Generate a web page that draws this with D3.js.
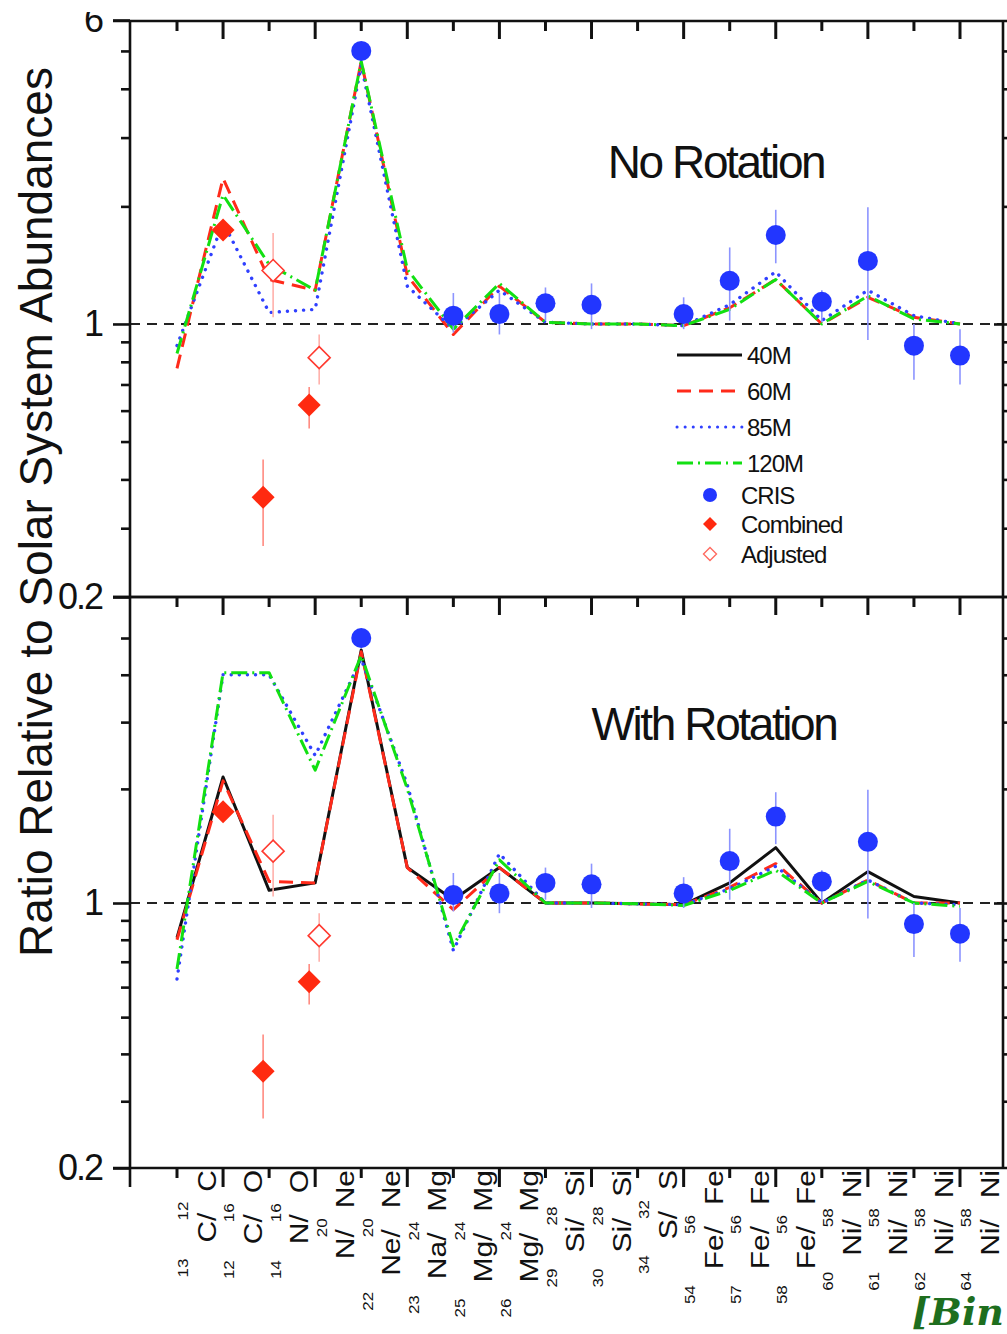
<!DOCTYPE html>
<html><head><meta charset="utf-8">
<script src="https://cdn.jsdelivr.net/npm/d3@7"></script>
<style>
html,body{margin:0;padding:0;background:#fff;}
svg{display:block;font-family:"Liberation Sans",Arial,Helvetica,sans-serif;}
</style></head><body>
<svg id="chart" width="1007" height="1334"></svg>
<script>
// Isotope / element ratios along the x axis
const ratios = ["13C/12C","12C/16O","14N/16O","N/Ne","22Ne/20Ne","23Na/24Mg","25Mg/24Mg","26Mg/24Mg",
  "29Si/28Si","30Si/28Si","34S/32S","54Fe/56Fe","57Fe/56Fe","58Fe/56Fe","60Ni/58Ni","61Ni/58Ni","62Ni/58Ni","64Ni/58Ni"];
// label pieces: numerator mass, numerator element, denominator mass, denominator element
const numMass = ["13","12","14","","22","23","25","26","29","30","34","54","57","58","60","61","62","64"];
const numElem = ["C","C","N","N","Ne","Na","Mg","Mg","Si","Si","S","Fe","Fe","Fe","Ni","Ni","Ni","Ni"];
const denMass = ["12","16","16","20","20","24","24","24","28","28","32","56","56","56","58","58","58","58"];
const denElem = ["C","O","O","Ne","Ne","Mg","Mg","Mg","Si","Si","S","Fe","Fe","Fe","Ni","Ni","Ni","Ni"];

// Model ratios, no rotation (the 40M curve is not shown in this panel)
const noRot60  = [0.77,2.36,1.30,1.22,4.70,1.33,0.94,1.25,1.01,1.00,1.00,0.99,1.10,1.30,1.00,1.17,1.04,1.00];
const noRot85  = [0.88,1.82,1.07,1.09,4.60,1.25,0.97,1.22,1.01,1.00,1.00,0.99,1.12,1.36,1.02,1.22,1.05,1.00];
const noRot120 = [0.84,2.14,1.42,1.22,4.70,1.38,0.97,1.27,1.01,1.00,1.00,0.99,1.09,1.30,1.00,1.18,1.03,1.00];
// Model ratios, with rotation
const rot40  = [0.81,2.15,1.08,1.13,4.65,1.24,1.02,1.24,1.00,1.00,0.995,0.99,1.13,1.40,1.00,1.21,1.04,1.00];
const rot60  = [0.80,2.10,1.14,1.13,4.60,1.24,0.96,1.24,1.00,1.00,0.995,0.99,1.10,1.27,1.00,1.15,1.00,1.00];
const rot85  = [0.63,4.00,4.00,2.45,4.40,2.05,0.75,1.35,1.00,1.00,0.995,0.99,1.09,1.25,1.00,1.15,1.00,0.99];
const rot120 = [0.67,4.05,4.05,2.24,4.50,2.00,0.77,1.30,1.00,1.00,0.995,0.985,1.08,1.22,1.00,1.14,1.00,0.98];

// CRIS source ratios with uncertainty range
const crisRatio = ["22Ne/20Ne","25Mg/24Mg","26Mg/24Mg","29Si/28Si","30Si/28Si","54Fe/56Fe","57Fe/56Fe","58Fe/56Fe","60Ni/58Ni","61Ni/58Ni","62Ni/58Ni","64Ni/58Ni"];
const crisVal = [5.00,1.05,1.06,1.13,1.12,1.06,1.29,1.69,1.14,1.45,0.88,0.83];
const crisLo  = [4.85,0.95,0.94,1.02,0.97,0.97,1.02,1.43,1.01,0.91,0.72,0.70];
const crisHi  = [5.15,1.20,1.20,1.24,1.27,1.17,1.57,1.96,1.22,1.99,1.00,0.97];
// Combined measurements
const combRatio = ["12C/16O","14N/16O","N/Ne"];
const combVal = [1.74,0.36,0.62];
const combLo  = [1.70,0.27,0.54];
const combHi  = [1.78,0.45,0.69];
// Adjusted measurements
const adjRatio = ["14N/16O","N/Ne"];
const adjVal = [1.37,0.82];
const adjLo  = [1.04,0.70];
const adjHi  = [1.71,0.94];

const yTicksMajor = [0.2,1,6];
const yTicksMinor = [0.3,0.4,0.5,0.6,0.7,0.8,0.9,2,3,4,5];

const svg = d3.select("#chart");
const L = 130, R = 1003;
const x = d3.scalePoint().domain(ratios).range([177, 960]);

// the page is trimmed just above the top axis
svg.append("clipPath").attr("id", "pageTop").append("rect")
  .attr("x", -200).attr("y", 12).attr("width", 1400).attr("height", 1322);

const panels = [
  {top: 21, bottom: 597, yr: [597, 20], title: "No Rotation", tx: 716, ty: 178,
   series: [null, noRot60, noRot85, noRot120], legend: true},
  {top: 597, bottom: 1168, yr: [1168, 608], title: "With Rotation", tx: 714, ty: 740,
   series: [rot40, rot60, rot85, rot120], legend: false}
];

const lineStyles = [
  {name: "40M",  color: "#111111", dash: null,         cap: "butt"},
  {name: "60M",  color: "#ff2a1a", dash: "14,8",       cap: "butt"},
  {name: "85M",  color: "#3040ff", dash: "0.1,8",      cap: "round"},
  {name: "120M", color: "#12e012", dash: "16,5,2,5",   cap: "butt"}
];
const crisColor = "#2236ff", redColor = "#ff2a10";
const diamond = r => `M0,${-r}L${r},0L0,${r}L${-r},0Z`;

panels.forEach((p, pi) => {
  const y = d3.scaleLog().domain([0.2, 6]).range(p.yr);
  const g = svg.append("g");
  const clipId = "clip" + pi;
  svg.append("clipPath").attr("id", clipId).append("rect")
    .attr("x", L).attr("y", p.top).attr("width", R - L).attr("height", p.bottom - p.top);

  // reference line at unity
  g.append("line").attr("x1", L).attr("x2", R).attr("y1", y(1)).attr("y2", y(1))
    .attr("stroke", "#222").attr("stroke-width", 2).attr("stroke-dasharray", "10,7");

  // model curves
  const plot = g.append("g").attr("clip-path", `url(#${clipId})`);
  const line = d3.line().x((d, i) => x(ratios[i])).y(d => y(d));
  p.series.forEach((s, si) => {
    if (!s) return;
    const st = lineStyles[si];
    plot.append("path").attr("d", line(s)).attr("fill", "none")
      .attr("stroke", st.color).attr("stroke-width", si === 2 ? 3.4 : 3)
      .attr("stroke-dasharray", st.dash).attr("stroke-linecap", st.cap)
      .attr("stroke-linejoin", "round");
  });

  // CRIS points
  const cris = plot.append("g");
  crisRatio.forEach((r, i) => {
    cris.append("line").attr("x1", x(r)).attr("x2", x(r)).attr("y1", y(crisLo[i])).attr("y2", y(crisHi[i]))
      .attr("stroke", "#8c94ff").attr("stroke-width", 1.6);
  });
  crisRatio.forEach((r, i) => {
    cris.append("circle").attr("cx", x(r)).attr("cy", y(crisVal[i])).attr("r", 10).attr("fill", crisColor);
  });

  // Combined and adjusted points; pairs sharing a ratio are nudged apart
  combRatio.forEach((r, i) => {
    const cx = x(r) + (adjRatio.includes(r) ? -6 : 0);
    plot.append("line").attr("x1", cx).attr("x2", cx).attr("y1", y(combLo[i])).attr("y2", y(combHi[i]))
      .attr("stroke", "#ff8a80").attr("stroke-width", 1.6);
    plot.append("path").attr("d", diamond(11.5)).attr("transform", `translate(${cx},${y(combVal[i])})`)
      .attr("fill", redColor);
  });
  adjRatio.forEach((r, i) => {
    const cx = x(r) + 4;
    plot.append("line").attr("x1", cx).attr("x2", cx).attr("y1", y(adjLo[i])).attr("y2", y(adjHi[i]))
      .attr("stroke", "#ffb0aa").attr("stroke-width", 1.6);
    plot.append("path").attr("d", diamond(11)).attr("transform", `translate(${cx},${y(adjVal[i])})`)
      .attr("fill", "#fff").attr("stroke", "#ff3a30").attr("stroke-width", 1.6);
  });

  // frame and ticks
  const ax = g.append("g").attr("stroke", "#111").attr("stroke-width", 2.6);
  ax.append("line").attr("x1", L).attr("x2", L).attr("y1", p.top).attr("y2", pi === 1 ? 1187 : p.bottom);
  ax.append("line").attr("x1", 113).attr("x2", R + 4).attr("y1", p.top).attr("y2", p.top);
  ax.append("line").attr("x1", 113).attr("x2", R + 4).attr("y1", p.bottom).attr("y2", p.bottom);
  ax.append("line").attr("x1", R).attr("x2", R).attr("y1", p.top).attr("y2", p.bottom);

  const leftAxis = d3.axisLeft(y).tickValues(yTicksMinor).tickSize(9).tickFormat("");
  const leftMaj = d3.axisLeft(y).tickValues(yTicksMajor.filter(v => pi === 0 || v < 6)).tickSize(17).tickPadding(11)
    .tickFormat(d => d === 0.2 ? "0.2" : String(d));
  [leftAxis, leftMaj].forEach(a => {
    const ga = g.append("g").attr("transform", `translate(${L},0)`).attr("clip-path", "url(#pageTop)").call(a);
    ga.select(".domain").remove();
    ga.selectAll("line").attr("stroke", "#111").attr("stroke-width", 2.6);
    ga.selectAll("text").attr("font-size", 36).attr("fill", "#111").attr("letter-spacing", -2)
      .attr("font-family", "Liberation Sans, Arial, sans-serif");
  });
  const rightMin = d3.axisLeft(y).tickValues(yTicksMinor).tickSize(7).tickFormat("");
  const rightMaj = d3.axisLeft(y).tickValues([1]).tickSize(15).tickFormat("");
  [rightMin, rightMaj].forEach(a => {
    const ga = g.append("g").attr("transform", `translate(${R + 6},0)`).call(a);
    ga.select(".domain").remove();
    ga.selectAll("line").attr("stroke", "#111").attr("stroke-width", 2.6);
  });

  // category ticks on the top edge of each panel, pointing down
  const tg = g.append("g");
  ratios.forEach((r, i) => {
    tg.append("line").attr("x1", x(r)).attr("x2", x(r)).attr("y1", p.top)
      .attr("y2", p.top + (i % 2 ? 18 : 10)).attr("stroke", "#111").attr("stroke-width", 3);
  });

  // panel title
  g.append("text").attr("x", p.tx).attr("y", p.ty).attr("text-anchor", "middle")
    .attr("font-size", 46).attr("letter-spacing", -2.4).attr("fill", "#111").text(p.title);

  if (pi === 1) {
    const bg = g.append("g");
    ratios.forEach((r, i) => {
      bg.append("line").attr("x1", x(r)).attr("x2", x(r)).attr("y1", p.bottom)
        .attr("y2", p.bottom + (i % 2 ? 19 : 10)).attr("stroke", "#111").attr("stroke-width", 3);
    });
  }

  if (p.legend) {
    const lg = g.append("g");
    const ly = [355, 391, 427, 463];
    lineStyles.forEach((st, i) => {
      lg.append("line").attr("x1", 677).attr("x2", 742).attr("y1", ly[i]).attr("y2", ly[i])
        .attr("stroke", st.color).attr("stroke-width", 3).attr("stroke-dasharray", st.dash)
        .attr("stroke-linecap", st.cap);
      lg.append("text").attr("x", 747).attr("y", ly[i] + 9).attr("font-size", 24)
        .attr("letter-spacing", -1).attr("fill", "#111").text(st.name);
    });
    lg.append("circle").attr("cx", 710).attr("cy", 495).attr("r", 7).attr("fill", crisColor);
    lg.append("path").attr("d", diamond(7)).attr("transform", "translate(710,524)").attr("fill", redColor);
    lg.append("path").attr("d", diamond(6.5)).attr("transform", "translate(710,554)")
      .attr("fill", "#fff").attr("stroke", "#ff6a60").attr("stroke-width", 1.4);
    [["CRIS", 495], ["Combined", 524], ["Adjusted", 554]].forEach(([t, yy]) => {
      lg.append("text").attr("x", 741).attr("y", yy + 9).attr("font-size", 24)
        .attr("letter-spacing", -1).attr("fill", "#111").text(t);
    });
  }
});

// rotated isotope-ratio labels under the lower panel
const lab = svg.append("g").attr("fill", "#111");
ratios.forEach((r, i) => {
  const t = lab.append("text")
    .attr("transform", `translate(${x(r) + 39},1170) scale(0.89,1) rotate(-90)`)
    .attr("text-anchor", "end");
  if (numMass[i]) t.append("tspan").attr("font-size", 17).attr("dy", -31).text(numMass[i]);
  t.append("tspan").attr("font-size", 30).attr("dy", numMass[i] ? 31 : 0).attr("dx", numMass[i] ? 16 : 0)
    .text(numElem[i] + "/");
  t.append("tspan").attr("font-size", 17).attr("dy", -31).attr("dx", -8).text(denMass[i]);
  t.append("tspan").attr("font-size", 30).attr("dy", 31).attr("dx", 10).text(denElem[i]);
});

// y axis title
svg.append("text").attr("transform", "translate(52,512) rotate(-90)").attr("text-anchor", "middle")
  .attr("font-size", 46).attr("fill", "#111").text("Ratio Relative to Solar System Abundances");

// citation tag
svg.append("text").attr("x", 1004).attr("y", 1325).attr("text-anchor", "end").attr("font-size", 38)
  .attr("font-family", "DejaVu Serif, serif").attr("font-style", "italic").attr("font-weight", "bold")
  .attr("fill", "#1e6e1e").text("[Bin");
</script>
</body></html>
